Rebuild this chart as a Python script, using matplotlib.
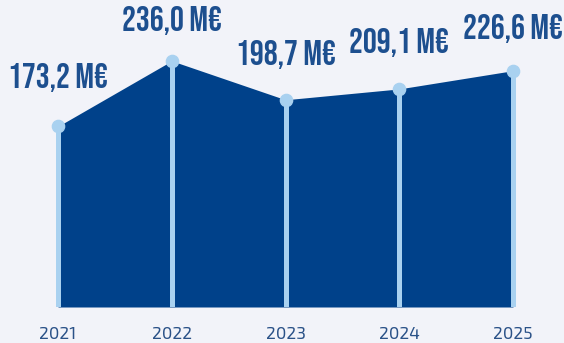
import matplotlib.pyplot as plt

# Données
annees = [2021, 2022, 2023, 2024, 2025]
valeurs = [173.2, 236.0, 198.7, 209.1, 226.6]
etiquettes = ['173,2 M€', '236,0 M€', '198,7 M€', '209,1 M€', '226,6 M€']

# décalage vertical des étiquettes (pixels au-dessus du point)
decalages = [49, 40, 45, 46, 42]

fond = '#F2F3F9'
bleu = '#00418A'
clair = '#A9D1F0'
texte = '#1D4F8F'

fig = plt.figure(figsize=(5.64, 3.43), dpi=100, facecolor=fond)
ax = fig.add_axes([0, 36 / 343, 1, 307 / 343])
ax.set_facecolor(fond)

# zone remplie
ax.fill_between(annees, valeurs, 0, color=bleu, linewidth=0, zorder=1)

# lignes verticales + points
ax.vlines(annees, 0, valeurs, color=clair, linewidth=3.6, zorder=2)
ax.plot(annees, valeurs, 'o', color=clair, markersize=8.8, linestyle='none', zorder=3)

# étiquettes de valeur
for x, v, t, d in zip(annees, valeurs, etiquettes, decalages):
    ax.annotate(t, (x, v), xytext=(0, d), textcoords='offset pixels',
                ha='center', va='center', fontsize=25,
                family=['Bebas Neue', 'DejaVu Sans'],
                color=texte, zorder=4)

ax.set_xlim(2021 - 58 / 113.75, 2021 + 506 / 113.75)
ax.set_ylim(0, 307 / 1.043)
ax.set_xticks(annees)
ax.set_xticklabels([str(a) for a in annees], family=['Exo 2', 'DejaVu Sans'])
ax.tick_params(axis='x', length=0, pad=14, labelsize=12.5, labelcolor='#2B5288')
ax.set_yticks([])
for s in ax.spines.values():
    s.set_visible(False)

fig.savefig('out.png', dpi=100, facecolor=fond)
